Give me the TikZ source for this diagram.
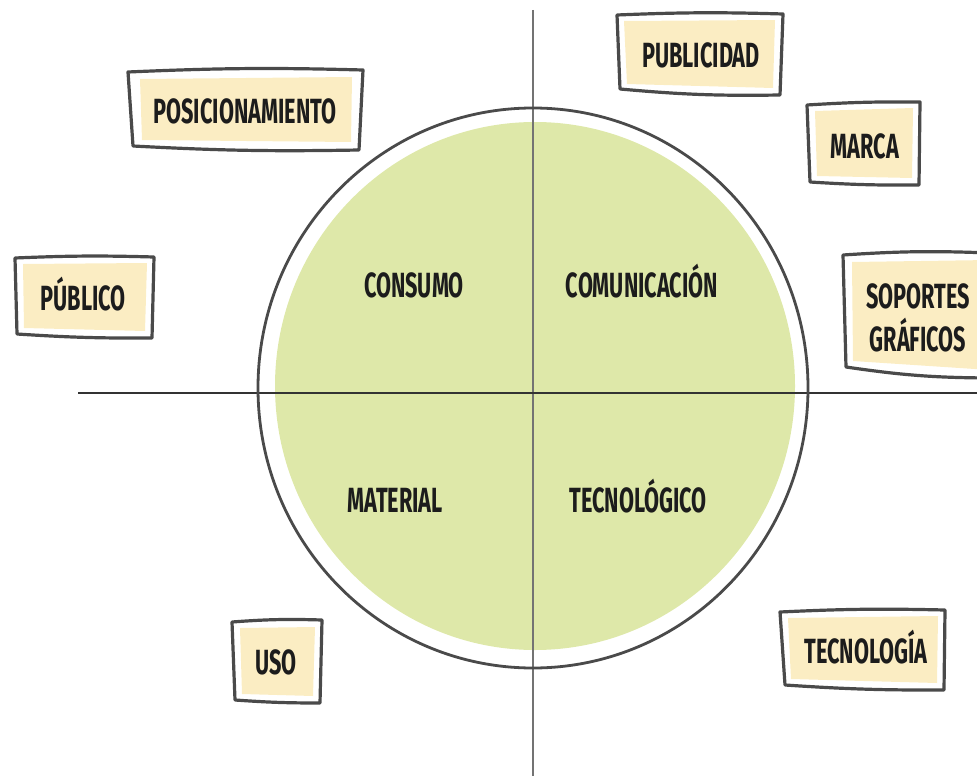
\documentclass[tikz,border=0pt]{standalone}
\usepackage{fontspec}
\setmainfont{Fira Sans}[FakeStretch=0.62]
\definecolor{cream}{HTML}{FBEDC3}
\definecolor{leaf}{HTML}{DEE8A9}
\definecolor{ink}{HTML}{1C1C1C}
\definecolor{edge}{HTML}{4A4A4A}
\begin{document}
\begin{tikzpicture}[x=1pt,y=-1pt,
  lbl/.style={font=\fontsize{35}{43}\selectfont\bfseries, text=ink, align=center, inner sep=0pt},
  bl/.style={lbl, anchor=base},
  bord/.style={draw=edge, line width=3.2pt, line join=round, line cap=round},
  boxfill/.style={fill=cream},
  axis/.style={line width=2pt}]
\useasboundingbox (0,0) rectangle (977,776);
% green disc
\fill[leaf] (535,386) ellipse [x radius=260, y radius=264];
% axes
\coordinate (vt) at (533,10);
\coordinate (vb) at (533,776);
\coordinate (hl) at (78,393);
\coordinate (hr) at (977,393);
\draw[axis, draw=black!55, line width=2.6pt] (vt) -- (vb);
\draw[axis, draw=black!80] (hl) -- (hr);
% outer circle
\draw[draw=edge, line width=2.8pt] (533,388) ellipse [x radius=275, y radius=280];
% quadrant labels
\node[bl] (consumo) at (414,297) {CONSUMO};
\node[bl] (comunic) at (642,297) {COMUNICACIÓN};
\node[bl] (material) at (395,512) {MATERIAL};
\node[bl] (tecnol) at (638,512) {TECNOLÓGICO};
% POSICIONAMIENTO
\fill[boxfill] (140,79) -- (352,77) -- (351,142) -- (142,140) -- cycle;
\draw[bord] (128,72) to[bend left=2] (363,70) -- (359,150) to[bend left=2] (133,146) -- cycle;
\node[bl] (posic) at (245,123) {POSICIONAMIENTO};
% PUBLICIDAD
\fill[boxfill] (624,21) -- (775,20) -- (773,88) -- (627,84) -- cycle;
\draw[bord] (617,15) to[bend left=2] (783,14) -- (780,95) to[bend left=3] (620,89) -- cycle;
\node[bl] (publ) at (701,67) {PUBLICIDAD};
% MARCA
\fill[boxfill] (815,111) -- (913,108) -- (912,178) -- (817,176) -- cycle;
\draw[bord] (807,105) to[bend left=2] (920,102) -- (919,185) to[bend left=2] (810,182) -- cycle;
\node[bl] (marca) at (865,158) {MARCA};
% PUBLICO
\fill[boxfill] (23,264) -- (147,263) -- (145,331) -- (24,328) -- cycle;
\draw[bord] (15,258) to[bend left=2] (154,257) -- (152,338) to[bend left=2] (17,334) -- cycle;
\node[bl] (public) at (83,310) {PÚBLICO};
% SOPORTES GRAFICOS
\fill[boxfill] (852,262) -- (990,260) -- (990,370) -- (853,361) -- cycle;
\draw[bord] (843,255) to[bend left=3] (990,253) -- (990,378) to[bend left=4] (846,367) -- cycle;
\node[bl] (soport) at (918,351) {SOPORTES\\GRÁFICOS};
% USO
\fill[boxfill] (240,628) -- (315,627) -- (313,696) -- (242,694) -- cycle;
\draw[bord] (232,622) to[bend left=3] (322,620) -- (320,703) to[bend left=2] (235,700) -- cycle;
\node[bl] (uso) at (276,674) {USO};
% TECNOLOGIA
\fill[boxfill] (788,618) -- (938,616) -- (937,683) -- (791,679) -- cycle;
\draw[bord] (780,612) to[bend left=2] (945,610) -- (944,690) to[bend left=2] (785,685) -- cycle;
\node[bl] (tecno) at (866,663) {TECNOLOGÍA};
\end{tikzpicture}
\end{document}
